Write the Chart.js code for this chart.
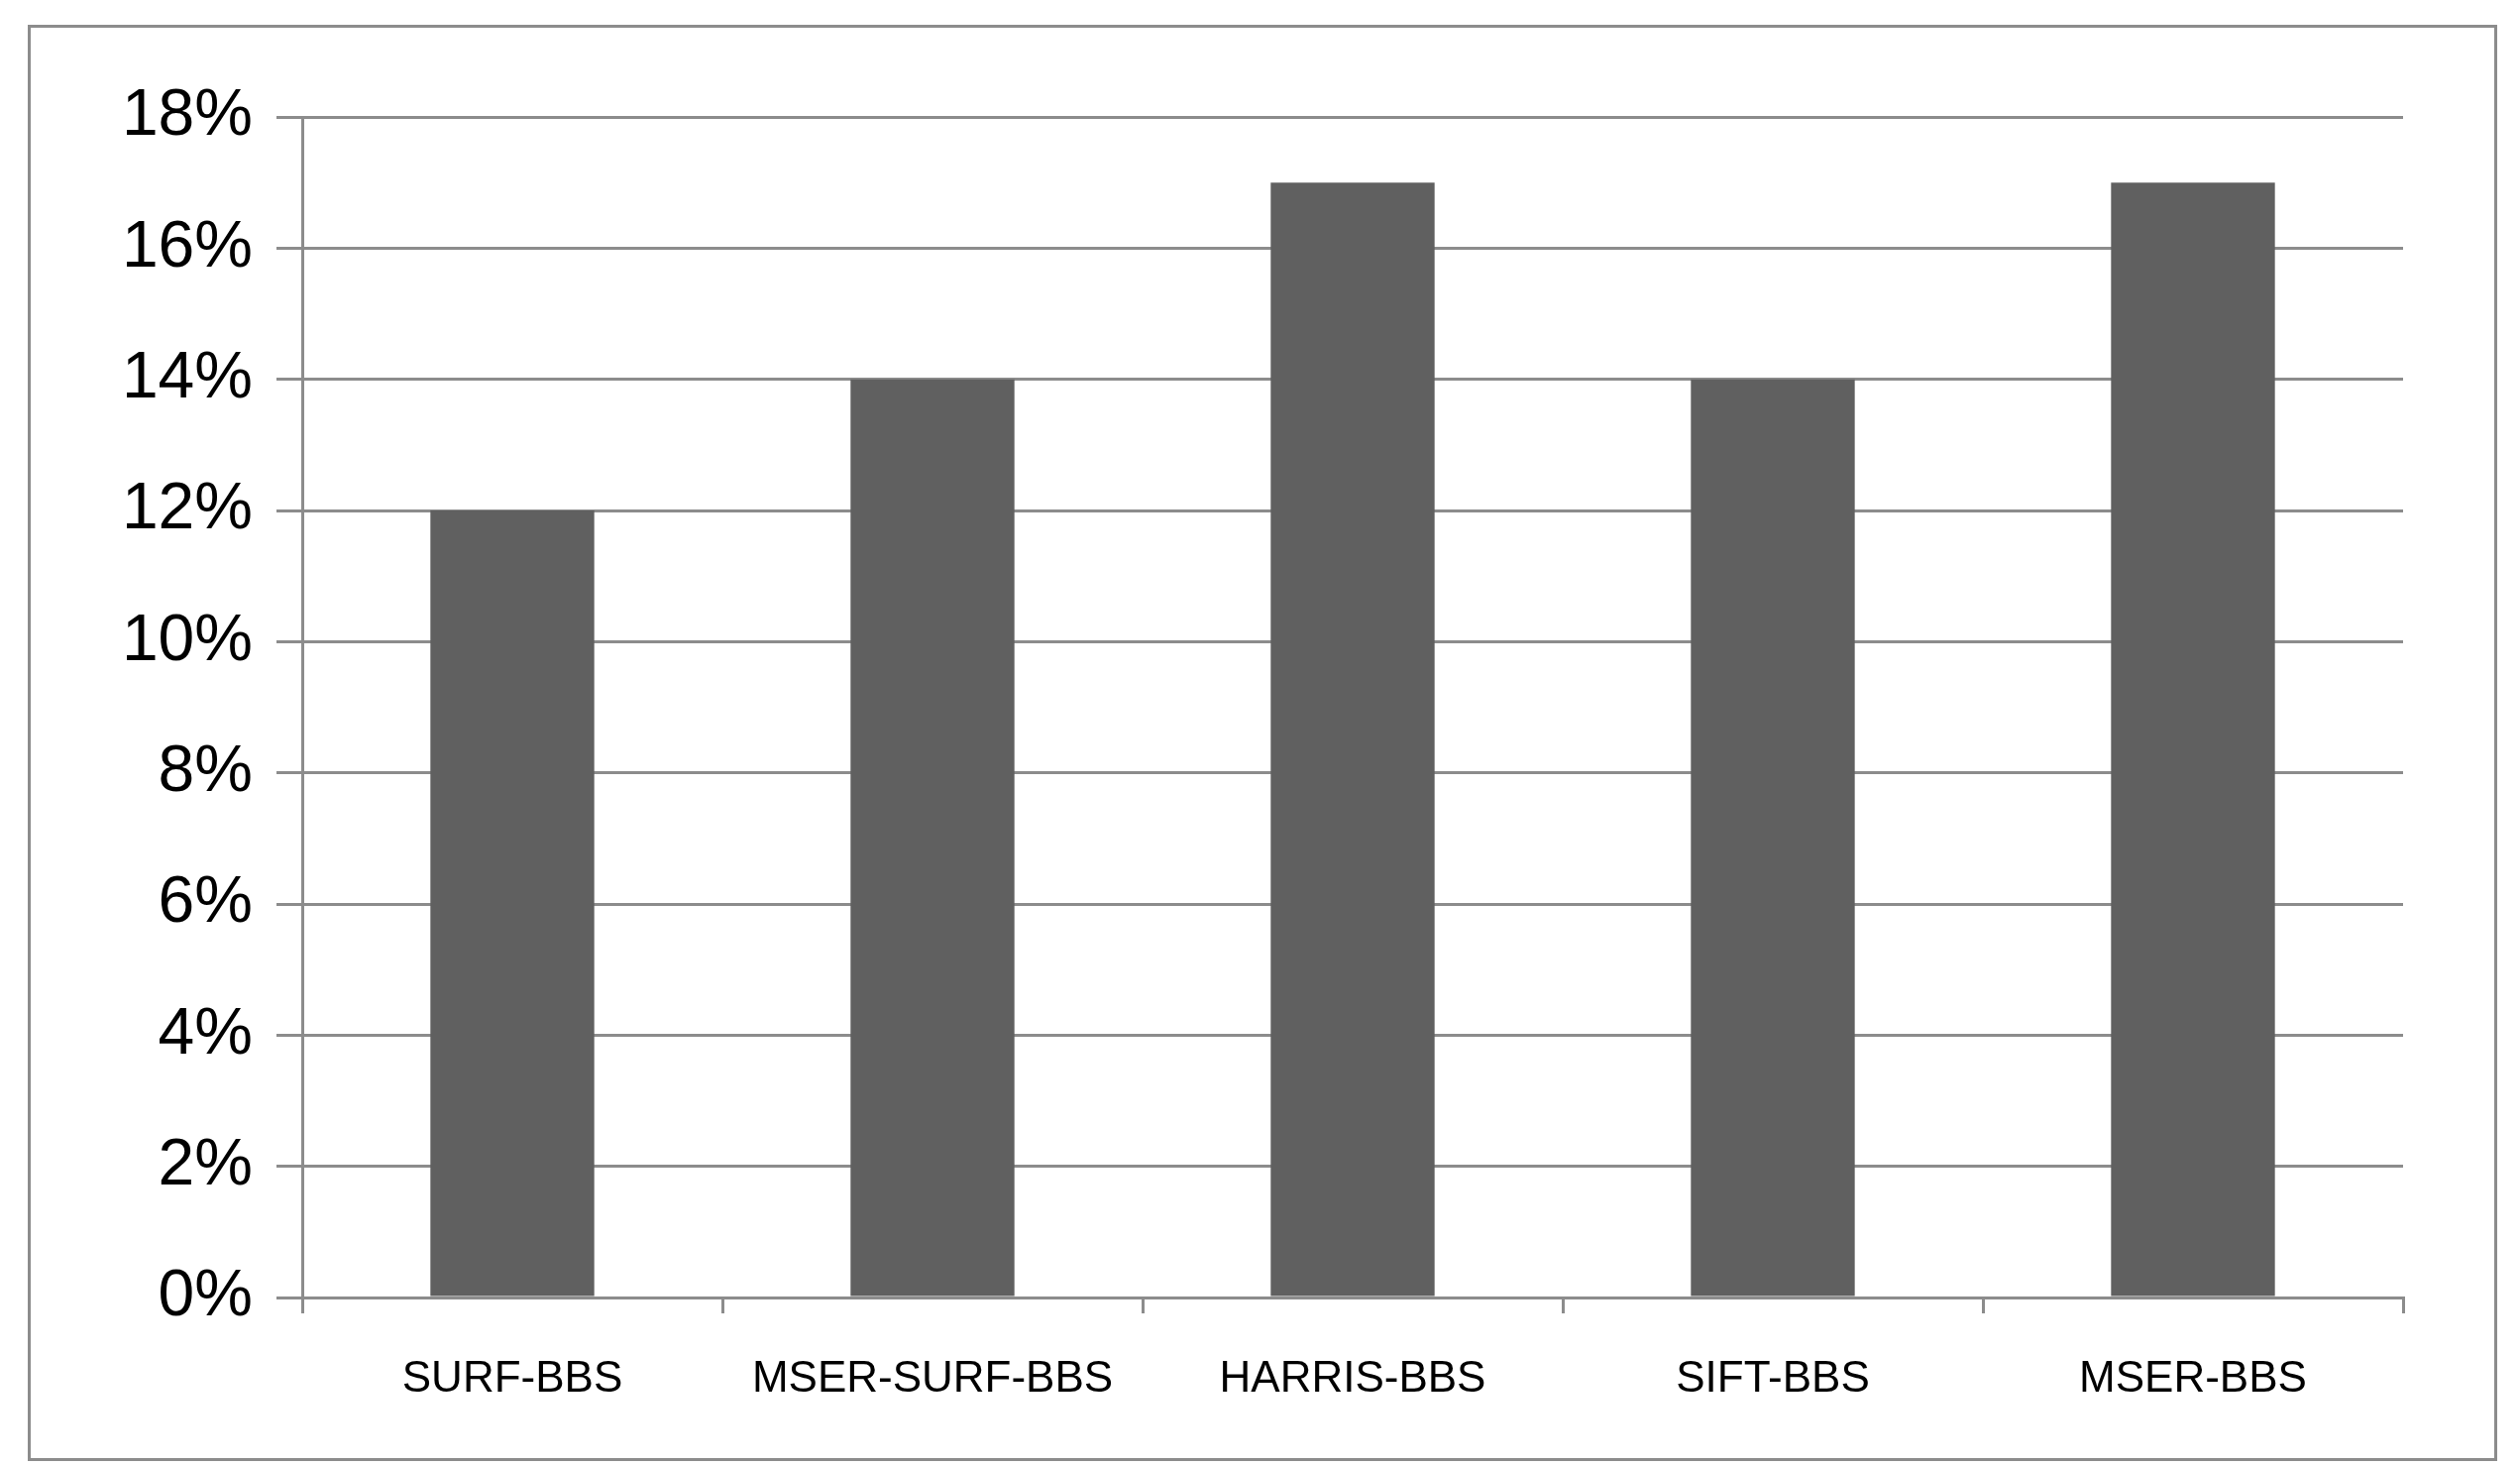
<!DOCTYPE html>
<html>
<head>
<meta charset="utf-8">
<script src="https://cdn.jsdelivr.net/npm/chart.js@4"></script>
<style>
  html, body { margin: 0; padding: 0; background: #fff; }
  #marco { position: absolute; left: 28px; top: 25px; width: 2486px; height: 1443px; border: 3px solid #8c8c8c; }
  #lienzo { position: absolute; left: 0; top: 0; }
</style>
</head>
<body>
<div id="marco"></div>
<canvas id="lienzo" width="2543" height="1479"></canvas>
<script>
// Datos del gráfico
const categorias = ['SURF-BBS', 'MSER-SURF-BBS', 'HARRIS-BBS', 'SIFT-BBS', 'MSER-BBS'];
const valores = [12, 14, 17, 14, 17];
const ticksY = [0, 2, 4, 6, 8, 10, 12, 14, 16, 18];

const fuente = "'Liberation Sans Narrow', 'Liberation Sans', sans-serif";
const gris = '#8c8c8c';

new Chart(document.getElementById('lienzo'), {
    type: 'bar',
    data: {
        labels: categorias,
        datasets: [{
            data: valores,
            backgroundColor: '#606060',
            barPercentage: 0.39,
            categoryPercentage: 1
        }]
    },
    options: {
        responsive: false,
        animation: false,
        layout: { padding: { top: 118, right: 118, left: 0, bottom: 0 } },
        plugins: { legend: { display: false }, tooltip: { enabled: false } },
        scales: {
            x: {
                afterFit: s => { s.height = 170; },
                grid: { offset: true, drawOnChartArea: false, color: gris, lineWidth: 3, tickLength: 16 },
                border: { color: gris, width: 3 },
                ticks: { color: '#000', font: { family: fuente, size: 44 }, padding: 40, maxRotation: 0 }
            },
            y: {
                min: 0, max: 18,
                afterFit: s => { s.width = 305; },
                afterBuildTicks: s => { s.ticks = ticksY.map(v => ({ value: v })); },
                grid: { color: gris, lineWidth: 3, tickLength: 26 },
                border: { color: gris, width: 3 },
                ticks: { color: '#000', font: { family: fuente, size: 66 }, padding: 24, callback: v => v + '%' }
            }
        }
    }
});
</script>
</body>
</html>
